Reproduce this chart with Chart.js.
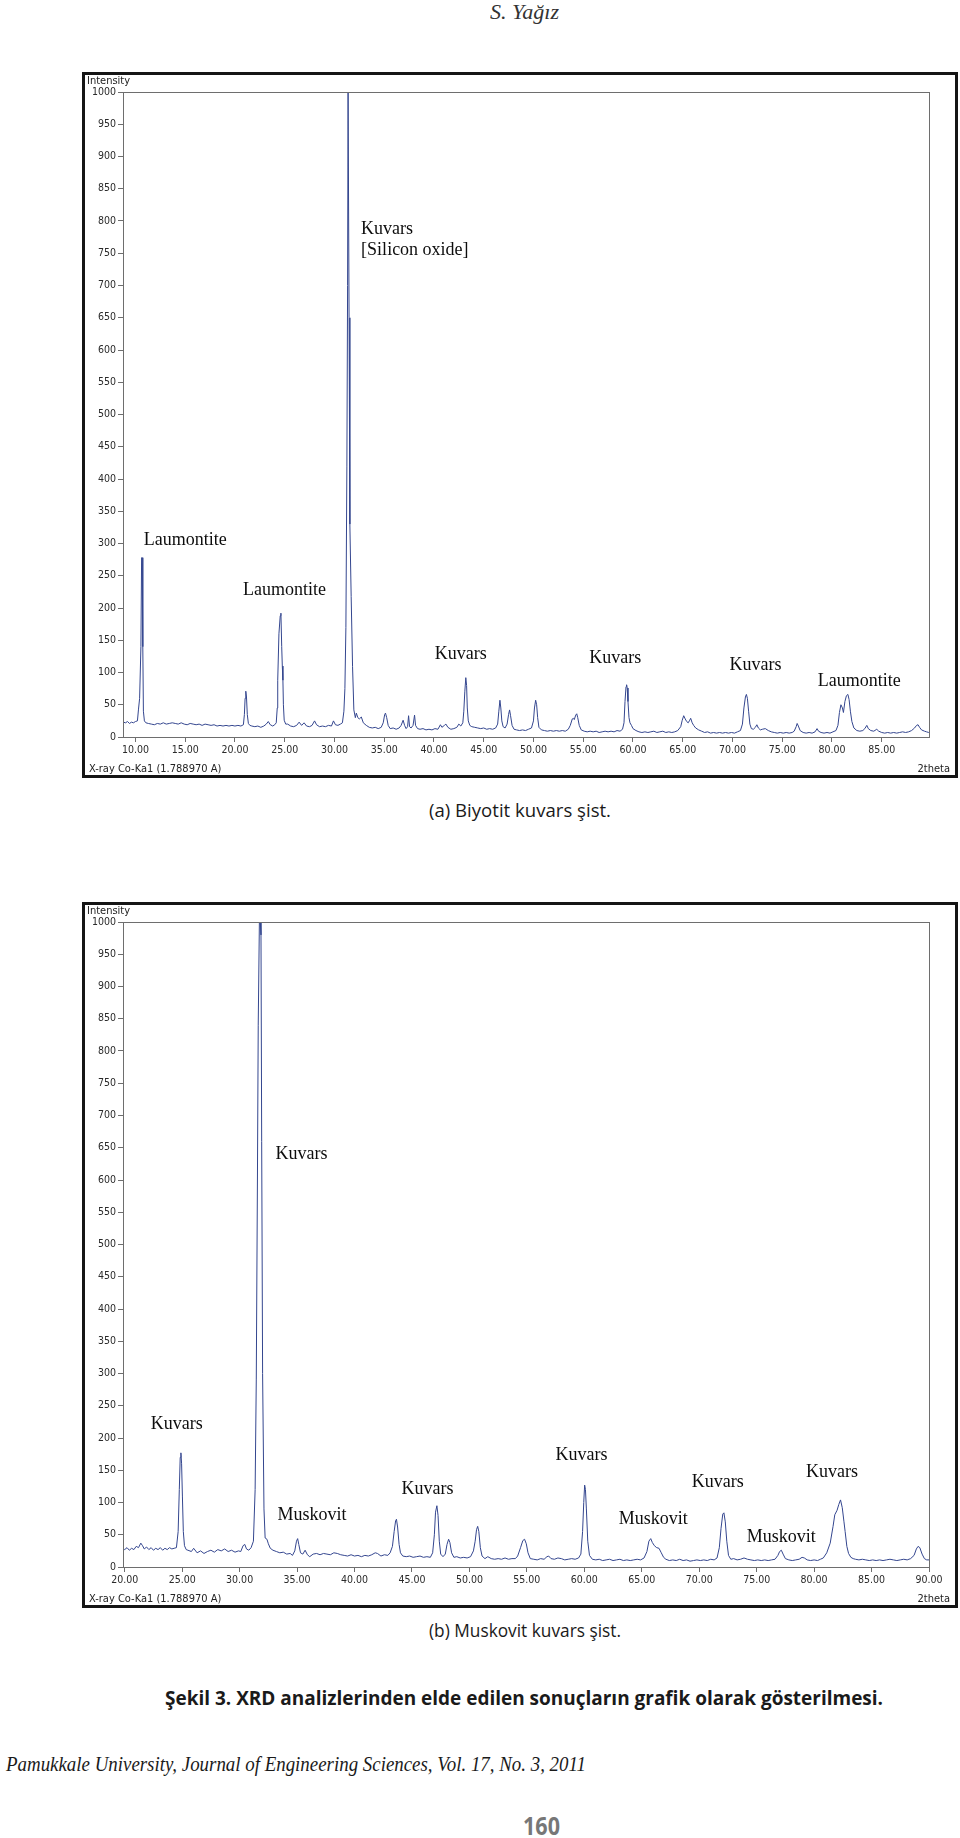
<!DOCTYPE html>
<html>
<head>
<meta charset="utf-8">
<script src="https://cdn.jsdelivr.net/npm/chart.js@4.4.1/dist/chart.umd.min.js"></script>
<style>
  body { margin: 0; background: #fff; }
  .page { position: relative; width: 960px; height: 1838px; overflow: hidden; }
  .frame { position: absolute; left: 82px; width: 876px; height: 706px; box-sizing: border-box; border: 3px solid #151515; }
  canvas { position: absolute; left: 82px; }
  .txt { position: absolute; white-space: nowrap; transform-origin: 0 0; line-height: 1; color: #1a1a1a; }
  .serif-it { font-family: "Liberation Serif", "Times New Roman", serif; font-style: italic; }
  .sans { font-family: "Open Sans", "Noto Sans", sans-serif; }
</style>
</head>
<body>
<div class="page">
  <div class="txt serif-it" data-w="69" style="left:490px; top:1px; font-size:22px; color:#333;">S. Yağız</div>

  <div class="frame" style="top:72px"></div>
  <canvas id="chartA" width="876" height="706" style="top:72px"></canvas>
  <div class="txt sans" data-w="182" style="left:429px; top:801px; font-size:19px;">(a) Biyotit kuvars şist.</div>

  <div class="frame" style="top:902px"></div>
  <canvas id="chartB" width="876" height="706" style="top:902px"></canvas>
  <div class="txt sans" data-w="192" style="left:429px; top:1621px; font-size:19px;">(b) Muskovit kuvars şist.</div>

  <div class="txt sans" data-w="718" style="left:165px; top:1688px; font-size:20px; font-weight:700;">Şekil 3. XRD analizlerinden elde edilen sonuçların grafik olarak gösterilmesi.</div>
  <div class="txt serif-it" data-w="580" style="left:6px; top:1754px; font-size:21px;">Pamukkale University, Journal of Engineering Sciences, Vol. 17, No. 3, 2011</div>
  <div class="txt sans" data-w="37" style="left:523px; top:1813px; font-size:25px; font-weight:700; color:#777;">160</div>
</div>

<script>
// ---- data (2theta, intensity) ----
const scanA = [
  [8.8,23],[9.0,22],[9.2,24],[9.4,21],[9.6,23],[9.8,22],[10.0,24],[10.2,25],[10.3,42],[10.42,60],
  [10.55,140],[10.62,278],[10.68,278],[10.74,140],[10.8,40],[10.9,25],[11.05,22],[11.3,21],[11.6,20],[11.9,19],
  [12.2,21],[12.5,20],[12.8,22],[13.1,20],[13.4,21],[13.7,22],[14.0,21],[14.3,20],[14.6,22],[14.9,20],
  [15.2,19],[15.5,21],[15.8,20],[16.1,19],[16.4,20],[16.7,18],[17.0,20],[17.3,19],[17.6,18],[17.9,19],
  [18.2,17],[18.5,18],[18.8,17],[19.1,18],[19.4,17],[19.7,18],[20.0,17],[20.3,18],[20.6,17],[20.85,19],
  [20.95,35],[21.02,60],[21.09,71],[21.16,62],[21.24,35],[21.35,21],[21.5,18],[21.7,17],[22.0,16],[22.3,17],
  [22.6,15],[22.9,17],[23.15,20],[23.35,24],[23.55,19],[23.8,17],[24.0,19],[24.15,22],[24.25,45],[24.3,88],
  [24.42,160],[24.55,188],[24.62,192],[24.7,140],[24.76,110],[24.82,88],[24.87,50],[24.95,26],[25.1,20],[25.3,20],
  [25.6,17],[25.9,16],[26.2,18],[26.45,23],[26.7,18],[26.95,22],[27.2,17],[27.5,16],[27.75,18],[28.0,25],
  [28.2,19],[28.5,16],[28.8,17],[29.1,16],[29.4,18],[29.7,17],[29.9,25],[30.1,19],[30.35,18],[30.6,20],
  [30.8,22],[30.95,40],[31.05,75],[31.15,170],[31.25,420],[31.32,700],[31.37,1000],[31.42,1000],[31.47,650],[31.55,330],
  [31.68,218],[31.82,109],[31.95,42],[32.1,30],[32.2,37],[32.35,30],[32.5,28],[32.7,31],[32.9,22],[33.2,18],
  [33.5,15],[33.8,14],[34.1,15],[34.4,13],[34.7,15],[34.9,22],[35.05,35],[35.13,37],[35.25,30],[35.4,18],
  [35.6,13],[35.9,14],[36.2,12],[36.5,14],[36.7,18],[36.9,26],[37.05,18],[37.2,13],[37.35,16],[37.45,33],
  [37.55,16],[37.7,14],[37.9,18],[38.05,34],[38.15,18],[38.35,13],[38.6,12],[38.9,13],[39.2,11],[39.5,12],
  [39.8,11],[40.1,13],[40.4,12],[40.65,19],[40.8,15],[41.05,18],[41.2,20],[41.4,15],[41.7,12],[42.0,13],
  [42.3,15],[42.5,20],[42.7,17],[42.9,22],[43.0,40],[43.1,70],[43.2,92],[43.28,80],[43.35,45],[43.45,25],
  [43.6,18],[43.8,16],[44.1,15],[44.4,14],[44.7,13],[45.0,14],[45.3,12],[45.6,13],[45.9,12],[46.2,14],
  [46.4,20],[46.52,40],[46.63,57],[46.72,45],[46.82,25],[46.95,16],[47.15,14],[47.35,20],[47.5,35],[47.6,42],
  [47.7,33],[47.85,18],[48.05,12],[48.3,11],[48.6,10],[48.9,11],[49.2,10],[49.5,12],[49.8,14],[50.0,25],
  [50.1,45],[50.22,57],[50.32,50],[50.42,30],[50.55,15],[50.8,11],[51.1,10],[51.4,9],[51.7,10],[52.0,9],
  [52.3,10],[52.6,9],[52.9,10],[53.2,9],[53.5,12],[53.7,18],[53.9,28],[54.0,29],[54.1,27],[54.25,34],
  [54.35,36],[54.45,30],[54.6,18],[54.8,11],[55.1,9],[55.4,8],[55.7,9],[56.0,8],[56.3,9],[56.6,7],
  [56.9,8],[57.2,9],[57.5,8],[57.8,9],[58.1,8],[58.4,10],[58.7,9],[58.95,12],[59.1,22],[59.2,55],
  [59.3,78],[59.36,81],[59.42,76],[59.5,55],[59.6,30],[59.7,22],[59.85,18],[60.0,13],[60.3,10],[60.6,8],
  [60.9,7],[61.2,8],[61.5,7],[61.8,8],[62.1,9],[62.4,7],[62.7,8],[63.0,9],[63.3,7],[63.6,8],
  [63.9,7],[64.2,8],[64.5,10],[64.8,16],[64.95,26],[65.1,33],[65.25,28],[65.4,24],[65.55,22],[65.7,26],
  [65.8,29],[65.95,22],[66.1,18],[66.3,14],[66.6,11],[66.9,9],[67.2,7],[67.5,8],[67.8,6],[68.1,7],
  [68.4,6],[68.7,7],[69.0,6],[69.3,7],[69.6,6],[69.9,7],[70.2,6],[70.5,8],[70.8,10],[71.0,20],
  [71.15,45],[71.3,62],[71.4,66],[71.5,60],[71.62,40],[71.75,20],[71.9,13],[72.1,12],[72.3,15],[72.45,19],
  [72.6,14],[72.8,11],[73.0,12],[73.3,13],[73.6,10],[73.9,8],[74.2,7],[74.5,6],[74.8,7],[75.1,6],
  [75.4,7],[75.7,6],[76.0,7],[76.2,9],[76.4,16],[76.5,21],[76.62,17],[76.8,10],[77.1,7],[77.4,6],
  [77.7,7],[78.0,6],[78.3,8],[78.5,13],[78.65,9],[78.9,7],[79.2,6],[79.5,7],[79.8,6],[80.1,8],
  [80.4,10],[80.6,18],[80.75,38],[80.9,50],[81.05,45],[81.15,38],[81.3,55],[81.45,64],[81.6,66],[81.72,58],
  [81.85,40],[82.0,24],[82.2,14],[82.5,10],[82.8,9],[83.1,10],[83.3,13],[83.5,18],[83.65,13],[83.9,10],
  [84.2,9],[84.5,12],[84.7,9],[85.0,7],[85.3,6],[85.6,7],[85.9,6],[86.2,7],[86.5,6],[86.8,7],
  [87.1,8],[87.4,7],[87.7,8],[88.0,10],[88.3,14],[88.5,18],[88.65,19],[88.8,15],[89.0,11],[89.3,9],
  [89.5,8],[89.73,7]
];

const scanB = [
  [19.85,29],[20.0,27],[20.2,30],[20.4,26],[20.6,29],[20.8,27],[21.0,32],[21.2,30],[21.4,37],[21.55,33],
  [21.7,28],[21.9,31],[22.1,27],[22.3,30],[22.5,26],[22.7,29],[22.9,27],[23.1,30],[23.3,26],[23.5,29],
  [23.7,27],[23.9,30],[24.1,28],[24.3,29],[24.5,30],[24.65,55],[24.75,120],[24.83,170],[24.89,177],[24.95,160],
  [25.02,110],[25.1,55],[25.2,33],[25.35,27],[25.5,26],[25.8,24],[26.0,29],[26.3,22],[26.6,25],[26.9,21],
  [27.2,24],[27.5,26],[27.8,23],[28.1,27],[28.4,25],[28.7,28],[29.0,24],[29.3,26],[29.6,23],[29.9,25],
  [30.1,24],[30.3,33],[30.45,35],[30.6,28],[30.8,26],[31.0,30],[31.2,40],[31.35,120],[31.45,290],[31.55,600],
  [31.62,840],[31.72,1000],[31.8,1000],[31.86,980],[31.92,660],[32.0,300],[32.12,90],[32.22,45],[32.38,43],[32.5,36],
  [32.67,29],[32.9,26],[33.2,24],[33.5,22],[33.8,23],[34.1,20],[34.4,21],[34.6,18],[34.8,25],[34.95,40],
  [35.05,44],[35.15,35],[35.3,22],[35.5,20],[35.7,26],[35.9,19],[36.1,16],[36.4,20],[36.7,21],[37.0,19],
  [37.3,21],[37.6,20],[37.9,19],[38.2,22],[38.5,21],[38.8,19],[39.1,18],[39.4,17],[39.7,19],[40.0,17],
  [40.3,18],[40.6,16],[40.9,18],[41.2,17],[41.5,19],[41.8,22],[42.0,21],[42.3,17],[42.6,19],[42.9,18],
  [43.1,22],[43.3,32],[43.45,55],[43.58,72],[43.65,74],[43.75,62],[43.88,35],[44.0,22],[44.2,17],[44.5,16],
  [44.8,17],[45.1,15],[45.4,16],[45.7,17],[46.0,15],[46.3,16],[46.6,15],[46.8,22],[46.95,50],[47.05,85],
  [47.17,95],[47.27,80],[47.38,40],[47.5,20],[47.7,16],[47.9,20],[48.05,35],[48.19,43],[48.3,38],[48.45,22],
  [48.65,15],[48.9,16],[49.2,14],[49.5,15],[49.8,14],[50.1,16],[50.35,25],[50.5,40],[50.62,58],[50.72,63],
  [50.82,55],[50.95,30],[51.1,17],[51.35,13],[51.6,16],[51.9,13],[52.2,12],[52.5,13],[52.8,12],[53.1,14],
  [53.4,12],[53.7,13],[54.0,13],[54.2,17],[54.45,30],[54.65,41],[54.8,43],[54.95,36],[55.1,22],[55.3,13],
  [55.6,12],[55.9,11],[56.2,13],[56.5,12],[56.75,16],[56.9,17],[57.1,13],[57.4,12],[57.7,14],[58.0,13],
  [58.3,11],[58.6,12],[58.9,13],[59.2,12],[59.5,14],[59.7,20],[59.85,55],[59.95,100],[60.03,127],[60.1,120],
  [60.18,90],[60.3,40],[60.45,18],[60.7,12],[61.0,11],[61.3,12],[61.6,10],[61.9,11],[62.2,12],[62.5,10],
  [62.8,11],[63.1,12],[63.4,10],[63.7,11],[64.0,10],[64.3,11],[64.6,12],[64.9,11],[65.2,14],[65.45,24],
  [65.62,40],[65.78,44],[65.92,38],[66.1,33],[66.3,30],[66.5,29],[66.7,22],[66.9,15],[67.1,12],[67.4,10],
  [67.7,11],[68.0,10],[68.3,12],[68.6,10],[68.9,11],[69.2,9],[69.5,10],[69.8,11],[70.1,10],[70.4,11],
  [70.7,10],[71.0,12],[71.3,11],[71.55,14],[71.75,30],[71.9,60],[72.05,82],[72.15,84],[72.27,70],[72.4,40],
  [72.55,18],[72.75,12],[73.0,13],[73.3,11],[73.6,12],[73.9,14],[74.2,12],[74.5,11],[74.8,10],[75.1,11],
  [75.4,10],[75.7,11],[76.0,10],[76.3,11],[76.6,12],[76.85,18],[77.0,24],[77.15,26],[77.3,20],[77.5,13],
  [77.8,11],[78.1,10],[78.4,11],[78.7,12],[78.95,15],[79.15,14],[79.4,11],[79.7,10],[80.0,11],[80.3,10],
  [80.55,12],[80.8,14],[81.1,22],[81.4,37],[81.65,63],[81.8,81],[82.0,88],[82.15,97],[82.3,104],[82.45,92],
  [82.6,70],[82.7,55],[82.85,32],[83.0,21],[83.2,15],[83.4,13],[83.6,12],[83.9,11],[84.2,12],[84.5,11],
  [84.8,10],[85.1,11],[85.4,10],[85.7,11],[86.0,10],[86.3,11],[86.6,12],[86.9,11],[87.2,10],[87.5,11],
  [87.8,12],[88.1,11],[88.4,13],[88.7,18],[88.9,28],[89.05,32],[89.2,30],[89.4,20],[89.6,13],[89.8,11],
  [90.0,11]
];

// axis ticks
const yTicks = [0,50,100,150,200,250,300,350,400,450,500,550,600,650,700,750,800,850,900,950,1000];
const xTicksA = [10,15,20,25,30,35,40,45,50,55,60,65,70,75,80,85];
const xTicksB = [20,25,30,35,40,45,50,55,60,65,70,75,80,85,90];

// phase labels: text and anchor (2theta, intensity) of the left baseline
const labelsA = ['Kuvars','[Silicon oxide]','Laumontite','Laumontite','Kuvars','Kuvars','Kuvars','Laumontite'];
const labelXA = [32.68, 32.68, 10.84, 20.82, 40.07, 55.6, 69.7, 78.58];
const labelYA = [780, 748, 298, 220, 121, 115, 104, 79];

const labelsB = ['Kuvars','Kuvars','Muskovit','Kuvars','Kuvars','Muskovit','Kuvars','Muskovit','Kuvars'];
const labelXB = [33.12, 22.26, 33.29, 44.09, 57.5, 63.0, 69.36, 74.13, 79.29];
const labelYB = [633, 214, 73, 113, 166, 67, 124, 39, 140];

Chart.defaults.font.family = "'DejaVu Sans Condensed', 'DejaVu Sans', sans-serif";
Chart.defaults.font.size = 10.5;
Chart.defaults.color = '#2a2a2a';

const peakLabels = {
  id: 'peakLabels',
  afterDatasetsDraw(chart, args, opts) {
    const ctx = chart.ctx, x = chart.scales.x, y = chart.scales.y;
    ctx.save();
    ctx.font = '18px "Liberation Serif", "Times New Roman", serif';
    ctx.fillStyle = '#0d0d0d';
    ctx.textBaseline = 'alphabetic';
    opts.text.forEach((t, i) => {
      ctx.fillText(t, x.getPixelForValue(opts.xs[i]), y.getPixelForValue(opts.ys[i]));
    });
    ctx.restore();
  }
};

// plot box + the instrument captions inside the frame
const plotFrame = {
  id: 'plotFrame',
  afterDraw(chart) {
    const ctx = chart.ctx, a = chart.chartArea;
    ctx.save();
    ctx.strokeStyle = '#6e6e6e';
    ctx.lineWidth = 1;
    ctx.strokeRect(Math.round(a.left) + 0.5, Math.round(a.top) + 0.5,
                   Math.round(a.right - a.left), Math.round(a.bottom - a.top));
    ctx.fillStyle = '#222';
    ctx.font = "11px 'DejaVu Sans Condensed', 'DejaVu Sans', sans-serif";
    ctx.textBaseline = 'alphabetic';
    ctx.fillText('Intensity', 5, a.top - 8);
    ctx.fillText('X-ray Co-Ka1 (1.788970 A)', 7, chart.height - 6);
    ctx.textAlign = 'right';
    ctx.fillText('2theta', chart.width - 8, chart.height - 6);
    ctx.restore();
  }
};

function makeChart(id, scan, xmin, xmax, xTicks, text, xs, ys) {
  return new Chart(document.getElementById(id), {
    type: 'line',
    data: {
      datasets: [{
        data: scan.map(p => ({ x: p[0], y: p[1] })),
        borderColor: '#34468f',
        borderWidth: 1,
        pointRadius: 0,
        tension: 0,
        fill: false
      }]
    },
    options: {
      responsive: false,
      animation: false,
      events: [],
      layout: { padding: { left: 0, top: 20, right: 29, bottom: 0 } },
      plugins: {
        legend: { display: false },
        tooltip: { enabled: false },
        peakLabels: { text: text, xs: xs, ys: ys }
      },
      scales: {
        x: {
          type: 'linear',
          min: xmin,
          max: xmax,
          afterFit: s => { s.height = 41; },
          afterBuildTicks: s => { s.ticks = xTicks.map(v => ({ value: v })); },
          grid: { drawOnChartArea: false, drawTicks: true, tickLength: 5, color: '#6e6e6e' },
          border: { color: '#6e6e6e' },
          ticks: { padding: 2, maxRotation: 0, autoSkip: false, callback: v => v.toFixed(2) }
        },
        y: {
          min: 0,
          max: 1000,
          afterFit: s => { s.width = 41; },
          afterBuildTicks: s => { s.ticks = yTicks.map(v => ({ value: v })); },
          grid: { drawOnChartArea: false, drawTicks: true, tickLength: 5, color: '#6e6e6e' },
          border: { color: '#6e6e6e' },
          ticks: { padding: 2, autoSkip: false, callback: v => String(v) }
        }
      }
    },
    plugins: [peakLabels, plotFrame]
  });
}

makeChart('chartA', scanA, 8.75, 89.75, xTicksA, labelsA, labelXA, labelYA);
makeChart('chartB', scanB, 19.85, 90, xTicksB, labelsB, labelXB, labelYB);

// squeeze the page captions to the widths of the printed page
function fitText() {
  document.querySelectorAll('.txt[data-w]').forEach(el => {
    el.style.transform = '';
    const w = el.getBoundingClientRect().width;
    el.style.transform = 'scaleX(' + (parseFloat(el.dataset.w) / w) + ')';
  });
}
fitText();
if (document.fonts) document.fonts.ready.then(fitText);
</script>
</body>
</html>
